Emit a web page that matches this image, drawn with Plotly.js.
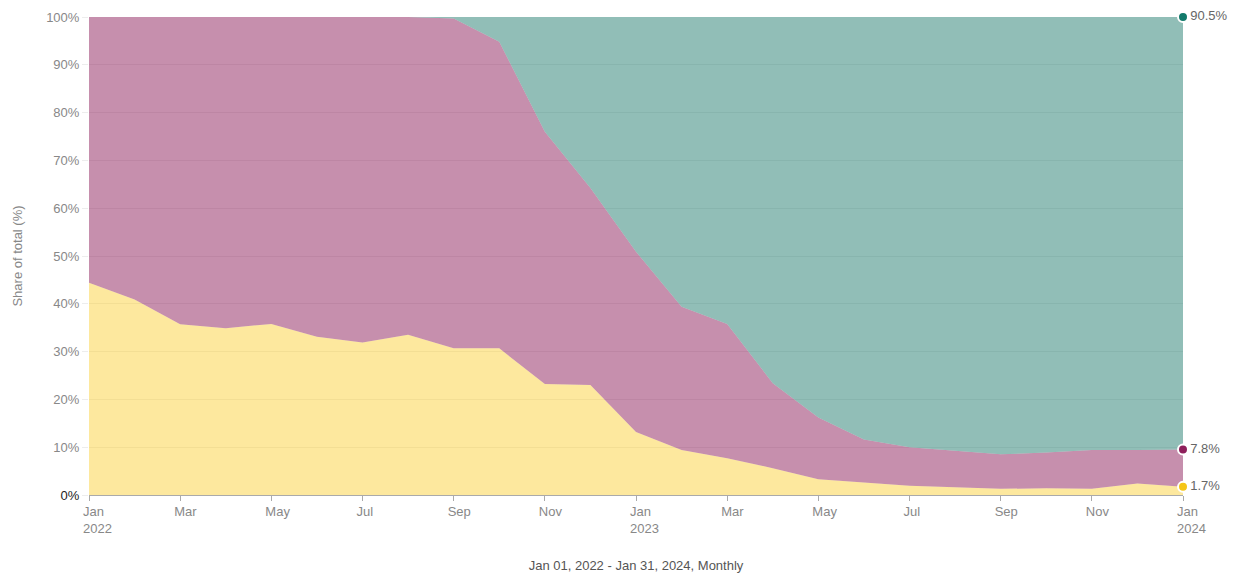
<!DOCTYPE html>
<html>
<head>
<meta charset="utf-8">
<script src="https://cdn.plot.ly/plotly-3.0.1.min.js"></script>
<style>html,body{margin:0;padding:0;background:#fff;}#chart{width:1240px;height:573px;}</style>
</head>
<body>
<div id="chart"></div>
<script>
// Monthly periods, Jan 2022 .. Jan 2024
var months = ['2022-01','2022-02','2022-03','2022-04','2022-05','2022-06','2022-07','2022-08','2022-09','2022-10','2022-11','2022-12',
              '2023-01','2023-02','2023-03','2023-04','2023-05','2023-06','2023-07','2023-08','2023-09','2023-10','2023-11','2023-12','2024-01'];
// Share of total (%) per series (stacked bottom -> top)
var yellowShare = [44.4, 40.9, 35.7, 34.9, 35.8, 33.1, 31.9, 33.5, 30.7, 30.7, 23.2, 23.0, 13.2, 9.4, 7.7, 5.6, 3.3, 2.6, 1.95, 1.6, 1.3, 1.4, 1.3, 2.4, 1.7];
var purpleShare = [55.6, 59.1, 64.3, 65.1, 64.2, 66.9, 68.1, 66.5, 69.0, 64.1, 52.8, 41.2, 37.7, 30.0, 28.1, 17.8, 12.9, 9.0, 8.05, 7.7, 7.2, 7.5, 8.1, 7.0, 7.8];
var tealShare   = [0, 0, 0, 0, 0, 0, 0, 0, 0.3, 5.2, 24.0, 35.8, 49.1, 60.6, 64.2, 76.6, 83.8, 88.4, 90.0, 90.7, 91.5, 91.1, 90.6, 90.6, 90.5];
// Tick labels
var tickIdx = [0,2,4,6,8,10,12,14,16,18,20,22,24];
var tickLabels = ['Jan<br>2022','Mar','May','Jul','Sep','Nov','Jan<br>2023','Mar','May','Jul','Sep','Nov','Jan<br>2024'];
var yTicks = [0,10,20,30,40,50,60,70,80,90,100];
var yTickLabels = ['<span style="fill:#222222">0%</span>','10%','20%','30%','40%','50%','60%','70%','80%','90%','100%'];

var xIdx = months.map(function(m, i){ return i; });
var last = xIdx.length - 1;

function area(vals, fill){
  return {x: xIdx, y: vals, type: 'scatter', mode: 'lines', stackgroup: 'one',
          line: {width: 0, color: fill}, fillcolor: fill, hoverinfo: 'skip', showlegend: false};
}
var traces = [
  area(yellowShare, 'rgba(250,204,40,0.45)'),
  area(purpleShare, 'rgba(142,31,91,0.5)'),
  area(tealShare,   'rgba(35,125,112,0.5)')
];
var cumY = yellowShare[last];
var cumP = cumY + purpleShare[last];
var cumT = cumP + tealShare[last];
function endDot(yv, val, color){
  return {x: [last], y: [yv], type: 'scatter', mode: 'markers+text', cliponaxis: false,
          marker: {size: 10, color: color, line: {color: '#ffffff', width: 2}},
          text: [val.toFixed(1) + '%'], textposition: 'middle right',
          textfont: {size: 13, color: '#666666', family: 'Liberation Sans, Arial, sans-serif'},
          hoverinfo: 'skip', showlegend: false};
}
traces.push(endDot(cumT, tealShare[last], '#127a6b'));
traces.push(endDot(cumP, purpleShare[last], '#8e1f5b'));
traces.push(endDot(cumY, yellowShare[last], '#f5c518'));

var layout = {
  width: 1240, height: 573,
  margin: {l: 89, r: 57, t: 17, b: 78},
  paper_bgcolor: '#ffffff', plot_bgcolor: '#ffffff',
  font: {family: 'Liberation Sans, Arial, sans-serif', color: '#888888', size: 12},
  xaxis: {
    range: [0, last], tickmode: 'array', tickvals: tickIdx, ticktext: tickLabels,
    showgrid: false, zeroline: false, showline: true, linecolor: '#aaaaaa', linewidth: 1,
    ticks: 'outside', ticklen: 5, tickcolor: '#aaaaaa',
    ticklabelposition: 'outside right', ticklabelshift: -7, ticklabelstandoff: 4,
    tickfont: {size: 13, color: '#888888'},
    title: {text: 'Jan 01, 2022 - Jan 31, 2024, Monthly', font: {size: 13, color: '#555555'}, standoff: 26}
  },
  yaxis: {
    range: [0, 100], tickmode: 'array', tickvals: yTicks, ticktext: yTickLabels,
    showgrid: true, gridcolor: 'rgba(0,0,0,0.07)', zeroline: false, showline: false,
    ticks: 'outside', ticklen: 6, tickcolor: 'rgba(0,0,0,0.07)', tickfont: {size: 13, color: '#888888'},
    title: {text: 'Share of total (%)', font: {size: 13, color: '#888888'}, standoff: 20}
  },
  showlegend: false, hovermode: false
};
Plotly.newPlot('chart', traces, layout, {displayModeBar: false, staticPlot: true});
</script>
</body>
</html>
